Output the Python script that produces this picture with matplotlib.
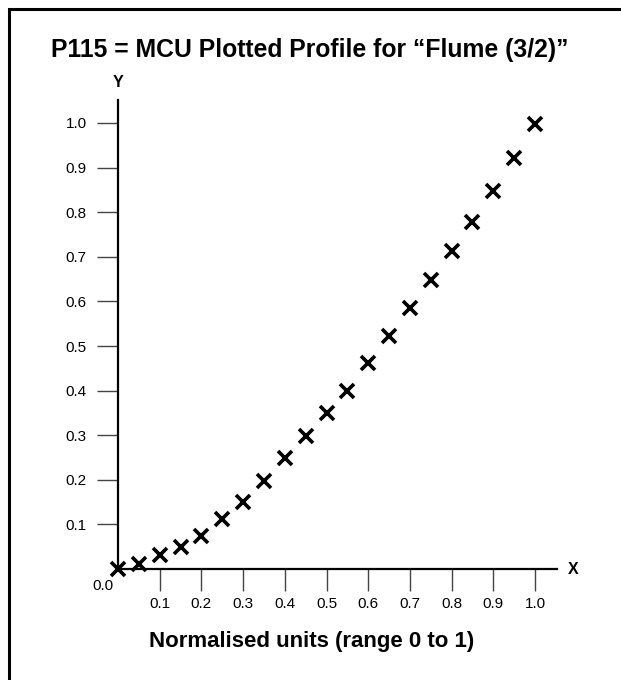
import matplotlib
matplotlib.use("Agg")
import matplotlib.pyplot as plt
from matplotlib.patches import Rectangle

plt.rcParams["font.family"] = ["Liberation Sans", "DejaVu Sans"]

# profile points
x_vals = [0.0, 0.05, 0.1, 0.15, 0.2, 0.25, 0.3, 0.35, 0.4, 0.45, 0.5,
          0.55, 0.6, 0.65, 0.7, 0.75, 0.8, 0.85, 0.9, 0.95, 1.0]
y_vals = [0.0, 0.012, 0.032, 0.05, 0.074, 0.111, 0.151, 0.198, 0.248, 0.299, 0.35,
          0.398, 0.461, 0.523, 0.586, 0.649, 0.712, 0.777, 0.848, 0.922, 0.998]
ticks = [0.1, 0.2, 0.3, 0.4, 0.5, 0.6, 0.7, 0.8, 0.9, 1.0]
tick_labels = ["0.1", "0.2", "0.3", "0.4", "0.5", "0.6", "0.7", "0.8", "0.9", "1.0"]

W, H = 621, 680
fig = plt.figure(figsize=(W / 100, H / 100), dpi=100)

# axes frame in pixels: origin at (118, 569), unit = 417 px wide, 446 px tall
x0, y0 = 118, 569
ux, uy = 417, 446
x_end, y_end = 557, 100
ax = fig.add_axes([x0 / W, (H - y0) / H, (x_end - x0) / W, (y0 - y_end) / H])
ax.set_xlim(0, (x_end - x0) / ux)
ax.set_ylim(0, (y0 - y_end) / uy)

ax.plot(x_vals, y_vals, linestyle="none", marker="x", markersize=10.5,
        markeredgewidth=2.6, color="black", clip_on=False, zorder=5)

for s in ["top", "right"]:
    ax.spines[s].set_visible(False)
for s in ["left", "bottom"]:
    ax.spines[s].set_linewidth(1.6)
    ax.spines[s].set_color("black")

ax.set_xticks(ticks)
ax.set_xticklabels(tick_labels)
ax.set_yticks(ticks)
ax.set_yticklabels(tick_labels)
ax.tick_params(axis="x", direction="out", length=16, width=1.0, color="#444444",
               labelsize=11, pad=4)
ax.tick_params(axis="y", direction="out", length=15, width=1.0, color="#444444",
               labelsize=11, pad=7.5)

ax.text(-0.035, -0.038, "0.0", ha="center", va="center", fontsize=11,
        transform=ax.transData, clip_on=False)
ax.text(1.092, 0.0, "X", ha="center", va="center", fontsize=11.5,
        fontweight="bold", clip_on=False)
ax.text(0.0, 1.09, "Y", ha="center", va="center", fontsize=11.5,
        fontweight="bold", clip_on=False)

fig.text(310 / W, 1 - 50 / H, "P115 = MCU Plotted Profile for \u201cFlume (3/2)\u201d",
         ha="center", va="center", fontsize=17.8, fontweight="bold")
fig.text(312 / W, 1 - 641 / H, "Normalised units (range 0 to 1)",
         ha="center", va="center", fontsize=16, fontweight="bold")

# outer frame, open at the right and bottom edges
fig.patches.append(Rectangle((9 / W, -0.1), 1.2, (H - 9) / H + 0.1,
                             transform=fig.transFigure, fill=False,
                             edgecolor="black", linewidth=2.2))

fig.savefig("out.png", dpi=100)
